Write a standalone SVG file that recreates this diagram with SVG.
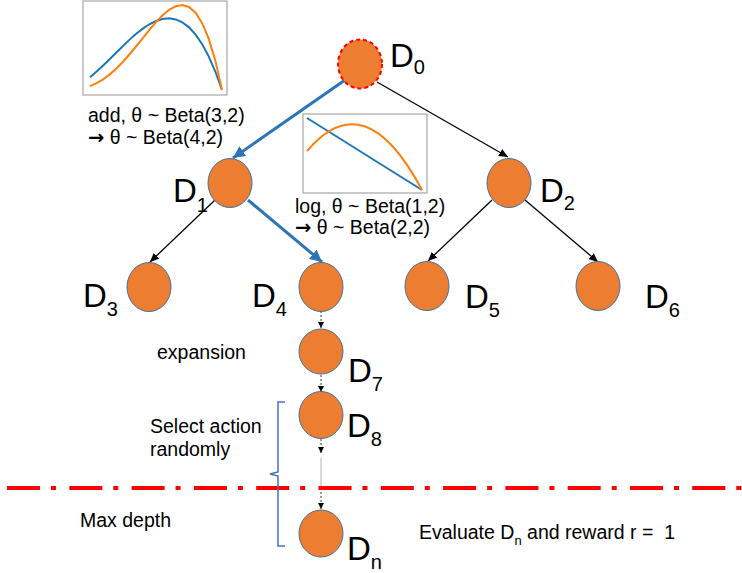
<svg xmlns="http://www.w3.org/2000/svg" width="742" height="573" viewBox="0 0 742 573">
<style>
text{font-family:"Liberation Sans",Arial,sans-serif;fill:#000}
.lbl{font-size:33px}
.sub{font-size:20px}
.t{font-size:19.5px}
.arr{font-family:"DejaVu Sans",sans-serif;font-weight:bold}
.node{fill:#ED7D31;stroke:#41719C;stroke-width:1}
.box{fill:#fff;stroke:#A6A6A6;stroke-width:1.2}
.cb{fill:none;stroke:#1F77B4;stroke-width:2}
.co{fill:none;stroke:#FF7F0E;stroke-width:2}
.blue{stroke:#2E75B6;stroke-width:3;fill:none}
.blk{stroke:#000;stroke-width:1.3;fill:none}
.dsh{stroke:#000;stroke-width:0.8;stroke-dasharray:2 2;fill:none}
</style>
<defs>
<marker id="ab" markerUnits="userSpaceOnUse" markerWidth="14" markerHeight="12" refX="12" refY="6" orient="auto"><path d="M0,0 L12,6 L0,12 z" fill="#2E75B6"/></marker>
<marker id="ak" markerUnits="userSpaceOnUse" markerWidth="10" markerHeight="8" refX="9" refY="4" orient="auto"><path d="M0,0 L9,4 L0,8 z" fill="#000"/></marker>
<marker id="as" markerUnits="userSpaceOnUse" markerWidth="7" markerHeight="6" refX="6" refY="3" orient="auto"><path d="M0,0 L6,3 L0,6 z" fill="#000"/></marker>
</defs>

<g id="chart1">
<rect class="box" x="83" y="1" width="144" height="94"/>
<polyline class="cb" points="90,77.15 96.6,71.6 103.2,65.5 109.8,59.05 116.4,52.46 123,45.92 129.6,39.62 136.2,33.79 142.8,28.6 149.4,24.26 156,20.98 162.6,18.95 169.2,18.37 175.8,19.44 182.4,22.37 189,27.34 195.6,34.57 202.2,44.25 208.8,56.58 215.4,71.76 222,90"/>
<polyline class="co" points="90,86.15 96.6,83.22 103.2,79.3 109.8,74.37 116.4,68.48 123,61.71 129.6,54.23 136.2,46.25 142.8,38.01 149.4,29.85 156,22.13 162.6,15.28 169.2,9.77 175.8,6.15 182.4,5.01 189,6.98 195.6,12.77 202.2,23.13 208.8,38.87 215.4,60.85 222,90"/>
</g>
<g id="chart2">
<rect class="box" x="303" y="114" width="124" height="79"/>
<line class="cb" x1="307" y1="118" x2="422" y2="190"/>
<path class="co" d="M307,151.1 Q364.5,82 422,190"/>
</g>

<g id="connectors">
<line class="blue" x1="345" y1="80" x2="233" y2="158" marker-end="url(#ab)"/>
<line class="blue" x1="248" y1="200" x2="322" y2="262" marker-end="url(#ab)"/>
<line class="blk" x1="377" y1="82" x2="508" y2="157" marker-end="url(#ak)"/>
<line class="blk" x1="215" y1="200" x2="150" y2="262" marker-end="url(#ak)"/>
<line class="blk" x1="492" y1="200" x2="428" y2="261" marker-end="url(#ak)"/>
<line class="blk" x1="525" y1="200" x2="598" y2="262" marker-end="url(#ak)"/>
<line class="dsh" x1="321" y1="311" x2="321" y2="328" marker-end="url(#as)"/>
<line class="dsh" x1="321" y1="375" x2="321" y2="392" marker-end="url(#as)"/>
<line class="dsh" x1="321" y1="439" x2="321" y2="453" marker-end="url(#as)"/>
<line x1="321" y1="458" x2="321" y2="490" stroke="#A0A0A0" stroke-width="0.8"/>
<line class="dsh" x1="321" y1="492" x2="321" y2="509" marker-end="url(#as)"/>
</g>

<g id="maxdepth-line">
<line x1="7" y1="488" x2="742" y2="488" stroke="#FF0000" stroke-width="4" stroke-dasharray="33 11 5 13.3"/>
</g>
<g id="bracket">
<path d="M285,402 L278,402 L278,472 L270,474 L278,476 L278,546 L285,546" fill="none" stroke="#4472C4" stroke-width="1.5"/>
</g>

<g id="D0"><ellipse cx="360" cy="64" rx="22" ry="24.5" fill="#ED7D31" stroke="#FF0000" stroke-width="2" stroke-dasharray="4 3"/><text class="lbl" x="390" y="67">D<tspan class="sub" dy="7">0</tspan></text></g>
<g id="D1"><ellipse class="node" cx="230" cy="183" rx="22" ry="24.5"/><text class="lbl" x="173" y="202">D<tspan class="sub" dy="10">1</tspan></text></g>
<g id="D2"><ellipse class="node" cx="509" cy="183" rx="22" ry="24.5"/><text class="lbl" x="540" y="202">D<tspan class="sub" dy="8">2</tspan></text></g>
<g id="D3"><ellipse class="node" cx="149" cy="287" rx="22" ry="24.5"/><text class="lbl" x="83" y="307">D<tspan class="sub" dy="9">3</tspan></text></g>
<g id="D4"><ellipse class="node" cx="321" cy="287" rx="22" ry="24.5"/><text class="lbl" x="252" y="307">D<tspan class="sub" dy="9">4</tspan></text></g>
<g id="D5"><ellipse class="node" cx="427" cy="286" rx="22" ry="24.5"/><text class="lbl" x="465" y="308">D<tspan class="sub" dy="9">5</tspan></text></g>
<g id="D6"><ellipse class="node" cx="598" cy="286" rx="22" ry="24.5"/><text class="lbl" x="645" y="308">D<tspan class="sub" dy="9">6</tspan></text></g>
<g id="D7"><ellipse class="node" cx="321" cy="351.5" rx="22" ry="22.5"/><text class="lbl" x="348" y="382">D<tspan class="sub" dy="9">7</tspan></text></g>
<g id="D8"><ellipse class="node" cx="321" cy="415" rx="22" ry="23.5"/><text class="lbl" x="347" y="437">D<tspan class="sub" dy="9">8</tspan></text></g>
<g id="Dn"><ellipse class="node" cx="321" cy="533.5" rx="22" ry="23.5"/><text class="lbl" x="347" y="560">D<tspan class="sub" dy="9">n</tspan></text></g>

<g id="labels">
<text class="t" x="88" y="122">add, θ ~ Beta(3,2)</text>
<text class="t" x="88" y="144"><tspan class="arr">→</tspan> θ ~ Beta(4,2)</text>
<text class="t" x="295" y="213">log, θ ~ Beta(1,2)</text>
<text class="t" x="295" y="234"><tspan class="arr">→</tspan> θ ~ Beta(2,2)</text>
<text class="t" x="157" y="359">expansion</text>
<text class="t" x="150" y="433">Select action</text>
<text class="t" x="150" y="456">randomly</text>
<text class="t" x="80" y="527">Max depth</text>
<text class="t" x="419" y="539" xml:space="preserve">Evaluate D<tspan font-size="13" dy="6">n</tspan><tspan dy="-6"> and reward r =  1</tspan></text>
</g>
</svg>
